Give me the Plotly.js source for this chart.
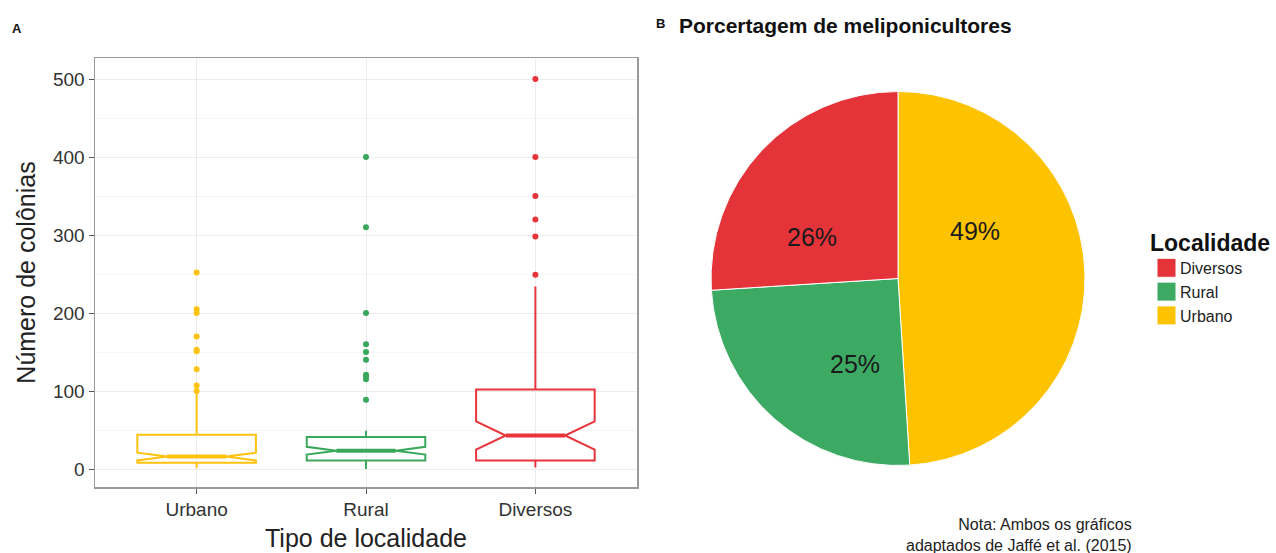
<!DOCTYPE html>
<html>
<head>
<meta charset="utf-8">
<script src="https://cdn.plot.ly/plotly-3.0.1.min.js"></script>
<style>html,body{margin:0;padding:0;background:#fff;}#chart{width:1276px;height:553px;}</style>
</head>
<body>
<div id="chart"></div>
<script>
// ---- Data ----
const boxCategories = ['Urbano', 'Rural', 'Diversos'];
const q1Values = [8, 11, 11];
const medianValues = [16, 23.5, 43];
const q3Values = [44, 41, 102];
const lowerWhiskers = [1, 0, 2];
const upperWhiskers = [100, 49, 234];
const notchSpans = [5, 5, 18];
const outliersUrbano = [100, 107, 128, 151, 153, 170, 200, 205, 252];
const outliersRural = [89, 115, 119, 121, 140, 150, 160, 200, 310, 400];
const outliersDiversos = [249, 298, 320, 350, 400, 500];
const boxColors = ['#FFC20E', '#3AA85C', '#E8343A'];

const pieLabels = ['Urbano', 'Rural', 'Diversos'];
const pieValues = [49, 25, 26];
const pieColors = ['#FDC300', '#3DAA63', '#E5333A'];

const fontFam = '"Liberation Sans", Arial, Helvetica, sans-serif';
const outlierSets = [outliersUrbano, outliersRural, outliersDiversos];
const boxWidth = 0.7;
const notchWidth = 0.25;

const traces = [];
const shapes = [];
boxCategories.forEach((cat, i) => {
  traces.push({
    type: 'box',
    x: [cat],
    q1: [q1Values[i]],
    median: [medianValues[i]],
    q3: [q3Values[i]],
    lowerfence: [lowerWhiskers[i]],
    upperfence: [upperWhiskers[i]],
    notched: true,
    notchspan: [notchSpans[i]],
    notchwidth: notchWidth,
    whiskerwidth: 0,
    width: boxWidth,
    line: {color: boxColors[i], width: 2},
    fillcolor: 'rgba(255,255,255,0)',
    showlegend: false,
    hoverinfo: 'skip',
    xaxis: 'x', yaxis: 'y'
  });
  traces.push({
    type: 'scatter',
    mode: 'markers',
    x: outlierSets[i].map(() => cat),
    y: outlierSets[i],
    marker: {color: boxColors[i], size: 6},
    showlegend: false,
    hoverinfo: 'skip',
    xaxis: 'x', yaxis: 'y'
  });
  // thicker median segment (ggplot style), spanning the notch's narrow width
  const half = boxWidth / 2 * (1 - 2 * notchWidth);
  shapes.push({
    type: 'line', xref: 'x', yref: 'y',
    x0: i - half, x1: i + half, y0: medianValues[i], y1: medianValues[i],
    line: {color: boxColors[i], width: 4}
  });
});

traces.push({
  type: 'pie',
  labels: pieLabels,
  values: pieValues,
  sort: false,
  direction: 'clockwise',
  rotation: 0,
  marker: {colors: pieColors, line: {color: '#ffffff', width: 1}},
  textinfo: 'none',
  hoverinfo: 'label+percent',
  domain: {x: [711/1276, 1085/1276], y: [1 - 466/553, 1 - 91/553]},
  showlegend: true
});

// percent labels as text positioned like the reference
const pieLabelPos = {Diversos: [812, 237], Rural: [855, 364], Urbano: [975, 231]};
const annotations = pieLabels.map((lab, i) => ({
  xref: 'paper', yref: 'paper',
  x: pieLabelPos[lab][0] / 1276, y: 1 - pieLabelPos[lab][1] / 553,
  text: pieValues[i] + '%', showarrow: false,
  font: {family: fontFam, size: 25, color: '#1a1a1a'},
  xanchor: 'center', yanchor: 'middle'
}));

annotations.push(
  {xref: 'paper', yref: 'paper', x: 10/1276, y: 1 - 28/553, text: '<b>A</b>', showarrow: false,
   xanchor: 'left', yanchor: 'middle', font: {family: fontFam, size: 13, color: '#111'}},
  {xref: 'paper', yref: 'paper', x: 654/1276, y: 1 - 24/553, text: '<b>B</b>', showarrow: false,
   xanchor: 'left', yanchor: 'middle', font: {family: fontFam, size: 13, color: '#111'}},
  {xref: 'paper', yref: 'paper', x: 677/1276, y: 1 - 26/553, text: '<b>Porcertagem de meliponicultores</b>', showarrow: false,
   xanchor: 'left', yanchor: 'middle', font: {family: fontFam, size: 21, color: '#111'}},
  {xref: 'paper', yref: 'paper', x: 1134/1276, y: 1 - 535/553, text: 'Nota: Ambos os gráficos<br>adaptados de Jaffé et al. (2015)', showarrow: false,
   xanchor: 'right', yanchor: 'middle', align: 'right', font: {family: fontFam, size: 16, color: '#222'}}
);

const layout = {
  width: 1276, height: 553,
  margin: {l: 0, r: 0, t: 0, b: 0},
  paper_bgcolor: '#ffffff', plot_bgcolor: '#ffffff',
  font: {family: fontFam, color: '#333'},
  xaxis: {
    domain: [95/1276, 637/1276],
    type: 'category',
    categoryorder: 'array', categoryarray: boxCategories,
    range: [-0.6, 2.6],
    showgrid: true, gridcolor: '#ececec', gridwidth: 1,
    showline: true, mirror: true, linecolor: '#9a9a9a', linewidth: 1.5,
    ticks: 'outside', ticklen: 5, tickcolor: '#555', tickwidth: 1,
    tickfont: {family: fontFam, size: 19, color: '#333'},
    title: {text: 'Tipo de localidade', font: {family: fontFam, size: 25, color: '#222'}, standoff: 10},
    zeroline: false, fixedrange: true
  },
  yaxis: {
    domain: [1 - 487/553, 1 - 58/553],
    range: [-23, 527],
    tickvals: [0, 100, 200, 300, 400, 500],
    showgrid: true, gridcolor: '#ececec', gridwidth: 1,
    minor: {tickvals: [50, 150, 250, 350, 450], showgrid: true, gridcolor: '#f6f6f6', ticks: ''},
    showline: true, mirror: true, linecolor: '#9a9a9a', linewidth: 1.5,
    ticks: 'outside', ticklen: 5, tickcolor: '#555', tickwidth: 1,
    tickfont: {family: fontFam, size: 19, color: '#333'},
    title: {text: 'Número de colônias', font: {family: fontFam, size: 25, color: '#222'}, standoff: 10},
    zeroline: false, fixedrange: true
  },
  legend: {
    x: 1148/1276, y: 1 - 221/553, xanchor: 'left', yanchor: 'top',
    traceorder: 'reversed',
    title: {text: '<b>Localidade</b>', font: {family: fontFam, size: 23, color: '#111'}},
    font: {family: fontFam, size: 16, color: '#222'},
    bgcolor: 'rgba(0,0,0,0)', tracegroupgap: 0
  },
  shapes: shapes,
  annotations: annotations,
  showlegend: true
};

Plotly.newPlot('chart', traces, layout, {displayModeBar: false, staticPlot: true}).then(gd => {
  // enlarge legend swatches to match ggplot's key size and tighten the gap to the text
  gd.querySelectorAll('path.legendpie').forEach(p => p.setAttribute('d', 'M8,9.5H-11V-9.5H8Z'));
  gd.querySelectorAll('.legend text.legendtext').forEach(t => t.setAttribute('x', '32'));
});
</script>
</body>
</html>
